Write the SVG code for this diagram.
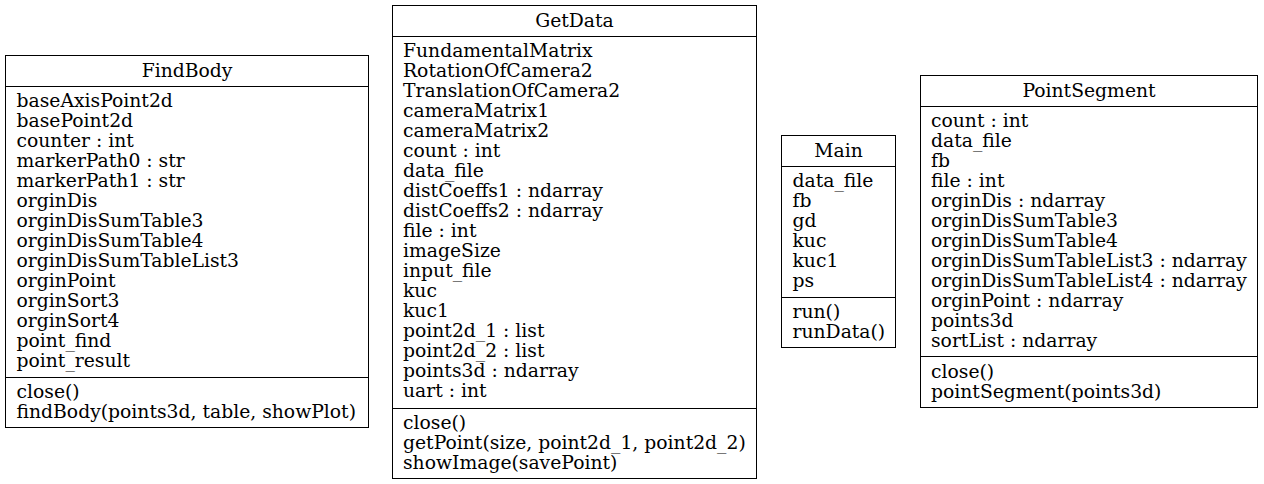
<svg xmlns="http://www.w3.org/2000/svg" width="1264" height="484" viewBox="0 0 1264 484">
<style>
.box{fill:#fff;stroke:#000;stroke-width:1}
.sep{stroke:#000;stroke-width:1}
text{font-family:"DejaVu Serif","Liberation Serif",serif;font-size:18.75px;fill:#000}
.t{text-anchor:middle}
</style>
<rect width="1264" height="484" fill="#fff"/>
<g id="connectors"></g>
<g id="FindBody">
<rect class="box" x="5.5" y="55.5" width="363" height="372"/>
<line class="sep" x1="5.5" y1="86.5" x2="368.5" y2="86.5"/>
<line class="sep" x1="5.5" y1="377.5" x2="368.5" y2="377.5"/>
<text class="t" x="187" y="77">FindBody</text>
<text x="16.5" y="107">baseAxisPoint2d</text>
<text x="16.5" y="127">basePoint2d</text>
<text x="16.5" y="147">counter : int</text>
<text x="16.5" y="167">markerPath0 : str</text>
<text x="16.5" y="187">markerPath1 : str</text>
<text x="16.5" y="207">orginDis</text>
<text x="16.5" y="227">orginDisSumTable3</text>
<text x="16.5" y="247">orginDisSumTable4</text>
<text x="16.5" y="267">orginDisSumTableList3</text>
<text x="16.5" y="287">orginPoint</text>
<text x="16.5" y="307">orginSort3</text>
<text x="16.5" y="327">orginSort4</text>
<text x="16.5" y="347">point_find</text>
<text x="16.5" y="367">point_result</text>
<text x="16.5" y="398">close()</text>
<text x="16.5" y="418">findBody(points3d, table, showPlot)</text>
</g>
<g id="GetData">
<rect class="box" x="392.5" y="5.5" width="364" height="473"/>
<line class="sep" x1="392.5" y1="36.5" x2="756.5" y2="36.5"/>
<line class="sep" x1="392.5" y1="408.5" x2="756.5" y2="408.5"/>
<text class="t" x="574.5" y="27">GetData</text>
<text x="403" y="57">FundamentalMatrix</text>
<text x="403" y="77">RotationOfCamera2</text>
<text x="403" y="97">TranslationOfCamera2</text>
<text x="403" y="117">cameraMatrix1</text>
<text x="403" y="137">cameraMatrix2</text>
<text x="403" y="157">count : int</text>
<text x="403" y="177">data_file</text>
<text x="403" y="197">distCoeffs1 : ndarray</text>
<text x="403" y="217">distCoeffs2 : ndarray</text>
<text x="403" y="237">file : int</text>
<text x="403" y="257">imageSize</text>
<text x="403" y="277">input_file</text>
<text x="403" y="297">kuc</text>
<text x="403" y="317">kuc1</text>
<text x="403" y="337">point2d_1 : list</text>
<text x="403" y="357">point2d_2 : list</text>
<text x="403" y="377">points3d : ndarray</text>
<text x="403" y="397">uart : int</text>
<text x="403" y="429">close()</text>
<text x="403" y="449">getPoint(size, point2d_1, point2d_2)</text>
<text x="403" y="469">showImage(savePoint)</text>
</g>
<g id="Main">
<rect class="box" x="781.5" y="135.5" width="114" height="212"/>
<line class="sep" x1="781.5" y1="166.5" x2="895.5" y2="166.5"/>
<line class="sep" x1="781.5" y1="297.5" x2="895.5" y2="297.5"/>
<text class="t" x="838.5" y="157">Main</text>
<text x="792.5" y="187">data_file</text>
<text x="792.5" y="207">fb</text>
<text x="792.5" y="227">gd</text>
<text x="792.5" y="247">kuc</text>
<text x="792.5" y="267">kuc1</text>
<text x="792.5" y="287">ps</text>
<text x="792.5" y="318">run()</text>
<text x="792.5" y="338">runData()</text>
</g>
<g id="PointSegment">
<rect class="box" x="920.5" y="75.5" width="337" height="332"/>
<line class="sep" x1="920.5" y1="106.5" x2="1257.5" y2="106.5"/>
<line class="sep" x1="920.5" y1="356.5" x2="1257.5" y2="356.5"/>
<text class="t" x="1089" y="97">PointSegment</text>
<text x="931" y="127">count : int</text>
<text x="931" y="147">data_file</text>
<text x="931" y="167">fb</text>
<text x="931" y="187">file : int</text>
<text x="931" y="207">orginDis : ndarray</text>
<text x="931" y="227">orginDisSumTable3</text>
<text x="931" y="247">orginDisSumTable4</text>
<text x="931" y="267">orginDisSumTableList3 : ndarray</text>
<text x="931" y="287">orginDisSumTableList4 : ndarray</text>
<text x="931" y="307">orginPoint : ndarray</text>
<text x="931" y="327">points3d</text>
<text x="931" y="347">sortList : ndarray</text>
<text x="931" y="378">close()</text>
<text x="931" y="398">pointSegment(points3d)</text>
</g>
</svg>
